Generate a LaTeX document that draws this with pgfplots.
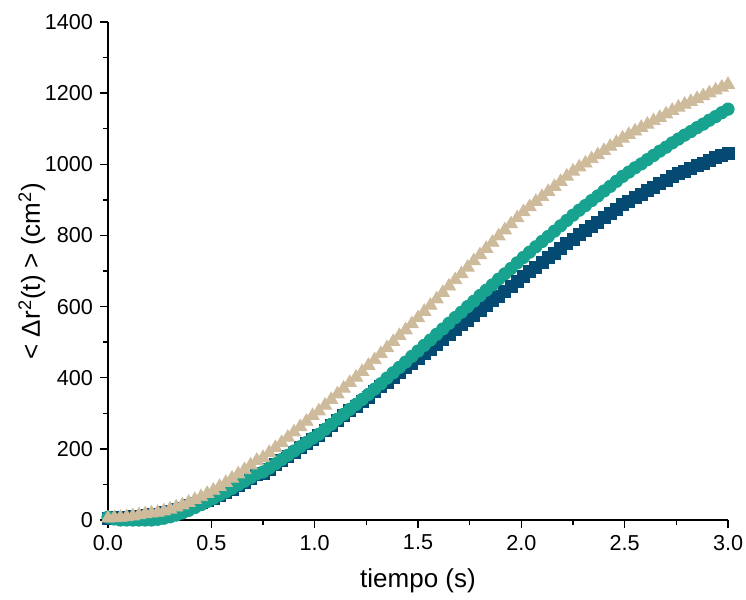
\documentclass[border=0pt]{standalone}
\usepackage{fontspec}
\setmainfont{Liberation Sans}
\usepackage{pgfplots}
\pgfplotsset{compat=1.18}
\definecolor{navyc}{RGB}{4,74,114}
\definecolor{tealc}{RGB}{23,163,143}
\definecolor{tanc}{RGB}{206,187,156}
\begin{document}
\begin{tikzpicture}
\begin{axis}[
  scale only axis, width=310pt, height=249pt,
  xmin=0, xmax=3, ymin=0, ymax=1400,
  axis lines*=left,
  axis line style={line width=0.75pt, -},
  every tick/.style={line width=0.75pt, black},
  tick align=outside,
  major tick length=4pt, minor tick length=2.5pt,
  xtick={0,0.5,...,3}, minor xtick={0.25,0.75,...,2.75},
  ytick={0,200,...,1400}, minor ytick={100,300,...,1300},
  xticklabel style={/pgf/number format/fixed,/pgf/number format/fixed zerofill,/pgf/number format/precision=1},
  /pgf/number format/assume math mode=true,
  tick label style={font=\fontsize{10.8}{12}\selectfont},
  yticklabel style={/pgf/number format/1000 sep={}},
  xlabel={tiempo (s)},
  ylabel={< Δr\textsuperscript{2}(t) > (cm\textsuperscript{2})},
  every axis x label/.style={at={(axis description cs:0.5,-0.122)}, anchor=center, font=\fontsize{13}{15}\selectfont},
  every axis y label/.style={at={(axis description cs:-0.123,0.5)}, rotate=90, anchor=center, font=\fontsize{13}{15}\selectfont},
  clip=false,
]
\addplot[only marks, mark=square*, mark size=3pt, color=navyc, mark options={draw=navyc, fill=navyc}] coordinates {
(0,5)(0.03,6)(0.06,7)(0.09,8)(0.12,9)(0.15,11)(0.18,13)(0.21,15)(0.24,17)
(0.27,20)(0.30,24)(0.33,29)(0.36,34)(0.39,40)(0.42,46)(0.45,50)(0.48,56)
(0.51,60)(0.54,68)(0.57,77)(0.60,86)(0.63,96)(0.66,106)(0.69,116)(0.72,127)
(0.75,132)(0.78,143)(0.81,155)(0.84,167)(0.87,179)(0.90,191)(0.93,203)(0.96,215)(0.99,227)
(1.02,238)(1.05,252)(1.08,266)(1.11,280)(1.14,294)(1.17,307)(1.20,320)(1.23,333)
(1.26,346)(1.29,362)(1.32,375)(1.35,388)(1.38,401)(1.41,414)(1.44,428)(1.47,441)(1.50,454)
(1.53,468)(1.56,481)(1.59,495)(1.62,508)(1.65,522)(1.68,535)(1.71,549)(1.74,562)
(1.77,576)(1.80,590)(1.83,603)(1.86,617)(1.89,630)(1.92,644)(1.95,657)(1.98,671)
(2.01,684)(2.04,698)(2.07,711)(2.10,724)(2.13,737)(2.16,750)(2.19,764)(2.22,777)
(2.25,790)(2.28,802)(2.31,814)(2.34,826)(2.37,838)(2.40,850)(2.43,862)(2.46,874)(2.49,886)
(2.52,897)(2.55,906)(2.58,916)(2.61,926)(2.64,936)(2.67,946)(2.70,956)(2.73,965)
(2.76,974)(2.79,981)(2.82,989)(2.85,996)(2.88,1003)(2.91,1010)(2.94,1018)(2.97,1025)(3.00,1032)
};
\addplot[only marks, mark=*, mark size=3.1pt, color=tealc, mark options={draw=tealc, fill=tealc}] coordinates {
(0,8)(0.03,3)(0.06,0)(0.09,0)(0.12,0)(0.15,0)(0.18,0)(0.21,0)(0.24,2)
(0.27,5)(0.30,9)(0.33,14)(0.36,20)(0.39,27)(0.42,35)(0.45,43)(0.48,52)
(0.51,61)(0.54,70)(0.57,79)(0.60,89)(0.63,99)(0.66,109)(0.69,119)(0.72,130)
(0.75,135)(0.78,146)(0.81,158)(0.84,170)(0.87,182)(0.90,194)(0.93,206)(0.96,218)(0.99,230)
(1.02,241)(1.05,255)(1.08,269)(1.11,283)(1.14,297)(1.17,311)(1.20,325)(1.23,339)
(1.26,353)(1.29,368)(1.32,383)(1.35,399)(1.38,414)(1.41,429)(1.44,444)(1.47,460)(1.50,475)
(1.53,491)(1.56,506)(1.59,522)(1.62,537)(1.65,553)(1.68,569)(1.71,584)(1.74,600)
(1.77,615)(1.80,631)(1.83,646)(1.86,661)(1.89,677)(1.92,692)(1.95,707)(1.98,723)
(2.01,738)(2.04,753)(2.07,768)(2.10,783)(2.13,797)(2.16,812)(2.19,827)(2.22,842)
(2.25,857)(2.28,871)(2.31,884)(2.34,898)(2.37,911)(2.40,925)(2.43,938)(2.46,952)(2.49,966)
(2.52,978)(2.55,990)(2.58,1001)(2.61,1013)(2.64,1025)(2.67,1037)(2.70,1048)(2.73,1060)
(2.76,1071)(2.79,1082)(2.82,1092)(2.85,1103)(2.88,1113)(2.91,1124)(2.94,1134)(2.97,1145)(3.00,1155)
};
\addplot[only marks, mark=triangle*, mark size=3.8pt, color=tanc, mark options={draw=tanc, fill=tanc}] coordinates {
(0,5)(0.03,6)(0.06,7)(0.09,9)(0.12,11)(0.15,14)(0.18,17)(0.21,19)(0.24,21)
(0.27,25)(0.30,30)(0.33,36)(0.36,42)(0.39,49)(0.42,57)(0.45,65)(0.48,74)
(0.51,83)(0.54,94)(0.57,105)(0.60,117)(0.63,129)(0.66,141)(0.69,154)(0.72,167)
(0.75,175)(0.78,189)(0.81,203)(0.84,217)(0.87,232)(0.90,247)(0.93,262)(0.96,277)(0.99,293)
(1.02,306)(1.05,322)(1.08,338)(1.11,354)(1.14,370)(1.17,386)(1.20,401)(1.23,417)
(1.26,434)(1.29,450)(1.32,467)(1.35,484)(1.38,501)(1.41,518)(1.44,534)(1.47,551)(1.50,568)
(1.53,586)(1.56,603)(1.59,621)(1.62,639)(1.65,657)(1.68,675)(1.71,692)(1.74,710)
(1.77,728)(1.80,745)(1.83,763)(1.86,780)(1.89,798)(1.92,815)(1.95,832)(1.98,849)
(2.01,866)(2.04,880)(2.07,895)(2.10,909)(2.13,923)(2.16,937)(2.19,951)(2.22,966)
(2.25,980)(2.28,992)(2.31,1003)(2.34,1015)(2.37,1026)(2.40,1038)(2.43,1050)(2.46,1061)(2.49,1073)
(2.52,1083)(2.55,1093)(2.58,1103)(2.61,1112)(2.64,1122)(2.67,1131)(2.70,1141)(2.73,1151)
(2.76,1160)(2.79,1168)(2.82,1176)(2.85,1184)(2.88,1192)(2.91,1200)(2.94,1208)(2.97,1216)(3.00,1224)
};
\end{axis}
\pgfresetboundingbox
\path[use as bounding box] (current axis.south west) ++(-54pt,-39.5pt) rectangle ([xshift=9pt,yshift=11pt]current axis.north east);
\end{tikzpicture}
\end{document}
